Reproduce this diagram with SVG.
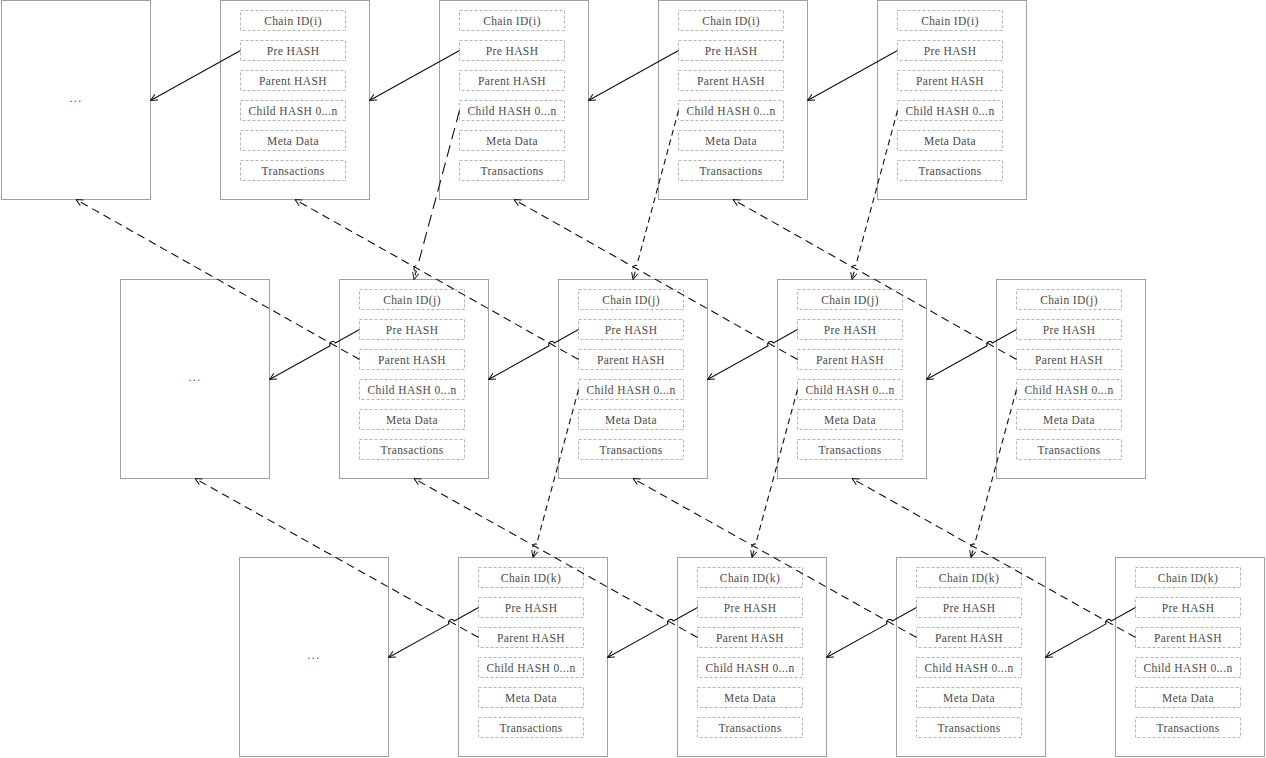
<svg xmlns="http://www.w3.org/2000/svg" width="1266" height="758" viewBox="0 0 1266 758">
<defs>
<style>
.box{fill:#fff;stroke:#a0a0a0;stroke-width:1}
.f{fill:#fff;stroke:#b4b4b4;stroke-width:1;stroke-dasharray:3 2}
.t{font-family:"Liberation Serif","DejaVu Serif",serif;font-size:11.5px;letter-spacing:0.4px;fill:#4a4a4a;text-anchor:middle}
.e{font-family:"Liberation Serif","DejaVu Serif",serif;font-size:11.5px;letter-spacing:1.5px;fill:#4a4a4a;text-anchor:middle}
.prev{fill:none;stroke:#111;stroke-width:1.1;marker-end:url(#ah)}
.par{fill:none;stroke:#111;stroke-width:1.1;stroke-dasharray:8 5;marker-end:url(#ah)}
.ch{fill:none;stroke:#111;stroke-width:1.1;stroke-dasharray:6 4;marker-end:url(#ah)}
.chl{fill:none;stroke:#111;stroke-width:1.1;stroke-dasharray:12 6;marker-end:url(#ah)}
</style>
<marker id="ah" viewBox="0 0 10 10" refX="9.5" refY="5" markerWidth="8" markerHeight="8" orient="auto" markerUnits="userSpaceOnUse">
<path d="M1,1 L9.5,5 L1,9" fill="none" stroke="#111" stroke-width="1.2" stroke-dasharray="none"/>
</marker>
</defs>

<!-- Row i -->
<g id="block-i0"><rect class="box" x="1.5" y="0.5" width="149" height="199"/><text class="e" x="76" y="102">...</text></g>
<g id="block-i1"><rect class="box" x="220.5" y="0.5" width="149" height="199"/>
<rect class="f" x="240.5" y="10.5" width="105" height="20"/><rect class="f" x="240.5" y="40.5" width="105" height="20"/><rect class="f" x="240.5" y="70.5" width="105" height="20"/><rect class="f" x="240.5" y="100.5" width="105" height="20"/><rect class="f" x="240.5" y="130.5" width="105" height="20"/><rect class="f" x="240.5" y="160.5" width="105" height="20"/>
<text class="t" x="293" y="24.5">Chain ID(i)</text><text class="t" x="293" y="54.5">Pre HASH</text><text class="t" x="293" y="84.5">Parent HASH</text><text class="t" x="293" y="114.5">Child HASH 0...n</text><text class="t" x="293" y="144.5">Meta Data</text><text class="t" x="293" y="174.5">Transactions</text></g>
<g id="block-i2"><rect class="box" x="439.5" y="0.5" width="149" height="199"/>
<rect class="f" x="459.5" y="10.5" width="105" height="20"/><rect class="f" x="459.5" y="40.5" width="105" height="20"/><rect class="f" x="459.5" y="70.5" width="105" height="20"/><rect class="f" x="459.5" y="100.5" width="105" height="20"/><rect class="f" x="459.5" y="130.5" width="105" height="20"/><rect class="f" x="459.5" y="160.5" width="105" height="20"/>
<text class="t" x="512" y="24.5">Chain ID(i)</text><text class="t" x="512" y="54.5">Pre HASH</text><text class="t" x="512" y="84.5">Parent HASH</text><text class="t" x="512" y="114.5">Child HASH 0...n</text><text class="t" x="512" y="144.5">Meta Data</text><text class="t" x="512" y="174.5">Transactions</text></g>
<g id="block-i3"><rect class="box" x="658.5" y="0.5" width="149" height="199"/>
<rect class="f" x="678.5" y="10.5" width="105" height="20"/><rect class="f" x="678.5" y="40.5" width="105" height="20"/><rect class="f" x="678.5" y="70.5" width="105" height="20"/><rect class="f" x="678.5" y="100.5" width="105" height="20"/><rect class="f" x="678.5" y="130.5" width="105" height="20"/><rect class="f" x="678.5" y="160.5" width="105" height="20"/>
<text class="t" x="731" y="24.5">Chain ID(i)</text><text class="t" x="731" y="54.5">Pre HASH</text><text class="t" x="731" y="84.5">Parent HASH</text><text class="t" x="731" y="114.5">Child HASH 0...n</text><text class="t" x="731" y="144.5">Meta Data</text><text class="t" x="731" y="174.5">Transactions</text></g>
<g id="block-i4"><rect class="box" x="877.5" y="0.5" width="149" height="199"/>
<rect class="f" x="897.5" y="10.5" width="105" height="20"/><rect class="f" x="897.5" y="40.5" width="105" height="20"/><rect class="f" x="897.5" y="70.5" width="105" height="20"/><rect class="f" x="897.5" y="100.5" width="105" height="20"/><rect class="f" x="897.5" y="130.5" width="105" height="20"/><rect class="f" x="897.5" y="160.5" width="105" height="20"/>
<text class="t" x="950" y="24.5">Chain ID(i)</text><text class="t" x="950" y="54.5">Pre HASH</text><text class="t" x="950" y="84.5">Parent HASH</text><text class="t" x="950" y="114.5">Child HASH 0...n</text><text class="t" x="950" y="144.5">Meta Data</text><text class="t" x="950" y="174.5">Transactions</text></g>

<!-- Row j -->
<g id="block-j0"><rect class="box" x="120.5" y="279.5" width="149" height="199"/><text class="e" x="195" y="381">...</text></g>
<g id="block-j1"><rect class="box" x="339.5" y="279.5" width="149" height="199"/>
<rect class="f" x="359.5" y="289.5" width="105" height="20"/><rect class="f" x="359.5" y="319.5" width="105" height="20"/><rect class="f" x="359.5" y="349.5" width="105" height="20"/><rect class="f" x="359.5" y="379.5" width="105" height="20"/><rect class="f" x="359.5" y="409.5" width="105" height="20"/><rect class="f" x="359.5" y="439.5" width="105" height="20"/>
<text class="t" x="412" y="303.5">Chain ID(j)</text><text class="t" x="412" y="333.5">Pre HASH</text><text class="t" x="412" y="363.5">Parent HASH</text><text class="t" x="412" y="393.5">Child HASH 0...n</text><text class="t" x="412" y="423.5">Meta Data</text><text class="t" x="412" y="453.5">Transactions</text></g>
<g id="block-j2"><rect class="box" x="558.5" y="279.5" width="149" height="199"/>
<rect class="f" x="578.5" y="289.5" width="105" height="20"/><rect class="f" x="578.5" y="319.5" width="105" height="20"/><rect class="f" x="578.5" y="349.5" width="105" height="20"/><rect class="f" x="578.5" y="379.5" width="105" height="20"/><rect class="f" x="578.5" y="409.5" width="105" height="20"/><rect class="f" x="578.5" y="439.5" width="105" height="20"/>
<text class="t" x="631" y="303.5">Chain ID(j)</text><text class="t" x="631" y="333.5">Pre HASH</text><text class="t" x="631" y="363.5">Parent HASH</text><text class="t" x="631" y="393.5">Child HASH 0...n</text><text class="t" x="631" y="423.5">Meta Data</text><text class="t" x="631" y="453.5">Transactions</text></g>
<g id="block-j3"><rect class="box" x="777.5" y="279.5" width="149" height="199"/>
<rect class="f" x="797.5" y="289.5" width="105" height="20"/><rect class="f" x="797.5" y="319.5" width="105" height="20"/><rect class="f" x="797.5" y="349.5" width="105" height="20"/><rect class="f" x="797.5" y="379.5" width="105" height="20"/><rect class="f" x="797.5" y="409.5" width="105" height="20"/><rect class="f" x="797.5" y="439.5" width="105" height="20"/>
<text class="t" x="850" y="303.5">Chain ID(j)</text><text class="t" x="850" y="333.5">Pre HASH</text><text class="t" x="850" y="363.5">Parent HASH</text><text class="t" x="850" y="393.5">Child HASH 0...n</text><text class="t" x="850" y="423.5">Meta Data</text><text class="t" x="850" y="453.5">Transactions</text></g>
<g id="block-j4"><rect class="box" x="996.5" y="279.5" width="149" height="199"/>
<rect class="f" x="1016.5" y="289.5" width="105" height="20"/><rect class="f" x="1016.5" y="319.5" width="105" height="20"/><rect class="f" x="1016.5" y="349.5" width="105" height="20"/><rect class="f" x="1016.5" y="379.5" width="105" height="20"/><rect class="f" x="1016.5" y="409.5" width="105" height="20"/><rect class="f" x="1016.5" y="439.5" width="105" height="20"/>
<text class="t" x="1069" y="303.5">Chain ID(j)</text><text class="t" x="1069" y="333.5">Pre HASH</text><text class="t" x="1069" y="363.5">Parent HASH</text><text class="t" x="1069" y="393.5">Child HASH 0...n</text><text class="t" x="1069" y="423.5">Meta Data</text><text class="t" x="1069" y="453.5">Transactions</text></g>

<!-- Row k -->
<g id="block-k0"><rect class="box" x="239.5" y="557.5" width="149" height="199"/><text class="e" x="314" y="659">...</text></g>
<g id="block-k1"><rect class="box" x="458.5" y="557.5" width="149" height="199"/>
<rect class="f" x="478.5" y="567.5" width="105" height="20"/><rect class="f" x="478.5" y="597.5" width="105" height="20"/><rect class="f" x="478.5" y="627.5" width="105" height="20"/><rect class="f" x="478.5" y="657.5" width="105" height="20"/><rect class="f" x="478.5" y="687.5" width="105" height="20"/><rect class="f" x="478.5" y="717.5" width="105" height="20"/>
<text class="t" x="531" y="581.5">Chain ID(k)</text><text class="t" x="531" y="611.5">Pre HASH</text><text class="t" x="531" y="641.5">Parent HASH</text><text class="t" x="531" y="671.5">Child HASH 0...n</text><text class="t" x="531" y="701.5">Meta Data</text><text class="t" x="531" y="731.5">Transactions</text></g>
<g id="block-k2"><rect class="box" x="677.5" y="557.5" width="149" height="199"/>
<rect class="f" x="697.5" y="567.5" width="105" height="20"/><rect class="f" x="697.5" y="597.5" width="105" height="20"/><rect class="f" x="697.5" y="627.5" width="105" height="20"/><rect class="f" x="697.5" y="657.5" width="105" height="20"/><rect class="f" x="697.5" y="687.5" width="105" height="20"/><rect class="f" x="697.5" y="717.5" width="105" height="20"/>
<text class="t" x="750" y="581.5">Chain ID(k)</text><text class="t" x="750" y="611.5">Pre HASH</text><text class="t" x="750" y="641.5">Parent HASH</text><text class="t" x="750" y="671.5">Child HASH 0...n</text><text class="t" x="750" y="701.5">Meta Data</text><text class="t" x="750" y="731.5">Transactions</text></g>
<g id="block-k3"><rect class="box" x="896.5" y="557.5" width="149" height="199"/>
<rect class="f" x="916.5" y="567.5" width="105" height="20"/><rect class="f" x="916.5" y="597.5" width="105" height="20"/><rect class="f" x="916.5" y="627.5" width="105" height="20"/><rect class="f" x="916.5" y="657.5" width="105" height="20"/><rect class="f" x="916.5" y="687.5" width="105" height="20"/><rect class="f" x="916.5" y="717.5" width="105" height="20"/>
<text class="t" x="969" y="581.5">Chain ID(k)</text><text class="t" x="969" y="611.5">Pre HASH</text><text class="t" x="969" y="641.5">Parent HASH</text><text class="t" x="969" y="671.5">Child HASH 0...n</text><text class="t" x="969" y="701.5">Meta Data</text><text class="t" x="969" y="731.5">Transactions</text></g>
<g id="block-k4"><rect class="box" x="1115.5" y="557.5" width="149" height="199"/>
<rect class="f" x="1135.5" y="567.5" width="105" height="20"/><rect class="f" x="1135.5" y="597.5" width="105" height="20"/><rect class="f" x="1135.5" y="627.5" width="105" height="20"/><rect class="f" x="1135.5" y="657.5" width="105" height="20"/><rect class="f" x="1135.5" y="687.5" width="105" height="20"/><rect class="f" x="1135.5" y="717.5" width="105" height="20"/>
<text class="t" x="1188" y="581.5">Chain ID(k)</text><text class="t" x="1188" y="611.5">Pre HASH</text><text class="t" x="1188" y="641.5">Parent HASH</text><text class="t" x="1188" y="671.5">Child HASH 0...n</text><text class="t" x="1188" y="701.5">Meta Data</text><text class="t" x="1188" y="731.5">Transactions</text></g>

<g id="connectors">
<!-- Pre HASH (solid) -->
<path class="prev" d="M240.5,50.5 L150.5,100.5"/>
<path class="prev" d="M459.5,50.5 L369.5,100.5"/>
<path class="prev" d="M678.5,50.5 L588.5,100.5"/>
<path class="prev" d="M897.5,50.5 L807.5,100.5"/>
<path class="prev" d="M359.5,329.5 L335.33,342.92 A3,3 0 0 0 330.09,345.84 L269.5,379.5"/>
<path class="prev" d="M578.5,329.5 L554.33,342.92 A3,3 0 0 0 549.09,345.84 L488.5,379.5"/>
<path class="prev" d="M797.5,329.5 L773.33,342.92 A3,3 0 0 0 768.09,345.84 L707.5,379.5"/>
<path class="prev" d="M1016.5,329.5 L992.33,342.92 A3,3 0 0 0 987.09,345.84 L926.5,379.5"/>
<path class="prev" d="M478.5,607.5 L454.25,620.97 A3,3 0 0 0 449.01,623.89 L388.5,657.5"/>
<path class="prev" d="M697.5,607.5 L673.25,620.97 A3,3 0 0 0 668.01,623.89 L607.5,657.5"/>
<path class="prev" d="M916.5,607.5 L892.25,620.97 A3,3 0 0 0 887.01,623.89 L826.5,657.5"/>
<path class="prev" d="M1135.5,607.5 L1111.25,620.97 A3,3 0 0 0 1106.01,623.89 L1045.5,657.5"/>
<!-- Parent HASH (dashed) -->
<path class="par" d="M359.5,359.5 L76,199.5"/>
<path class="par" d="M578.5,359.5 L295,199.5"/>
<path class="par" d="M797.5,359.5 L514,199.5"/>
<path class="par" d="M1016.5,359.5 L733,199.5"/>
<path class="par" d="M478.5,637.5 L195,478.5"/>
<path class="par" d="M697.5,637.5 L414,478.5"/>
<path class="par" d="M916.5,637.5 L633,478.5"/>
<path class="par" d="M1135.5,637.5 L852,478.5"/>
<!-- Child HASH (dashed) -->
<path class="chl" d="M459.5,110.5 L417.78,265.45 A3,3 0 0 0 416.22,271.25 L414,279.5"/>
<path class="ch" d="M678.5,110.5 L636.78,265.45 A3,3 0 0 0 635.22,271.25 L633,279.5"/>
<path class="ch" d="M897.5,110.5 L855.78,265.45 A3,3 0 0 0 854.22,271.25 L852,279.5"/>
<path class="ch" d="M578.5,389.5 L536.66,543.96 A3,3 0 0 0 535.10,549.76 L533,557.5"/>
<path class="ch" d="M797.5,389.5 L755.66,543.96 A3,3 0 0 0 754.10,549.76 L752,557.5"/>
<path class="ch" d="M1016.5,389.5 L974.66,543.96 A3,3 0 0 0 973.10,549.76 L971,557.5"/>
</g>
</svg>
